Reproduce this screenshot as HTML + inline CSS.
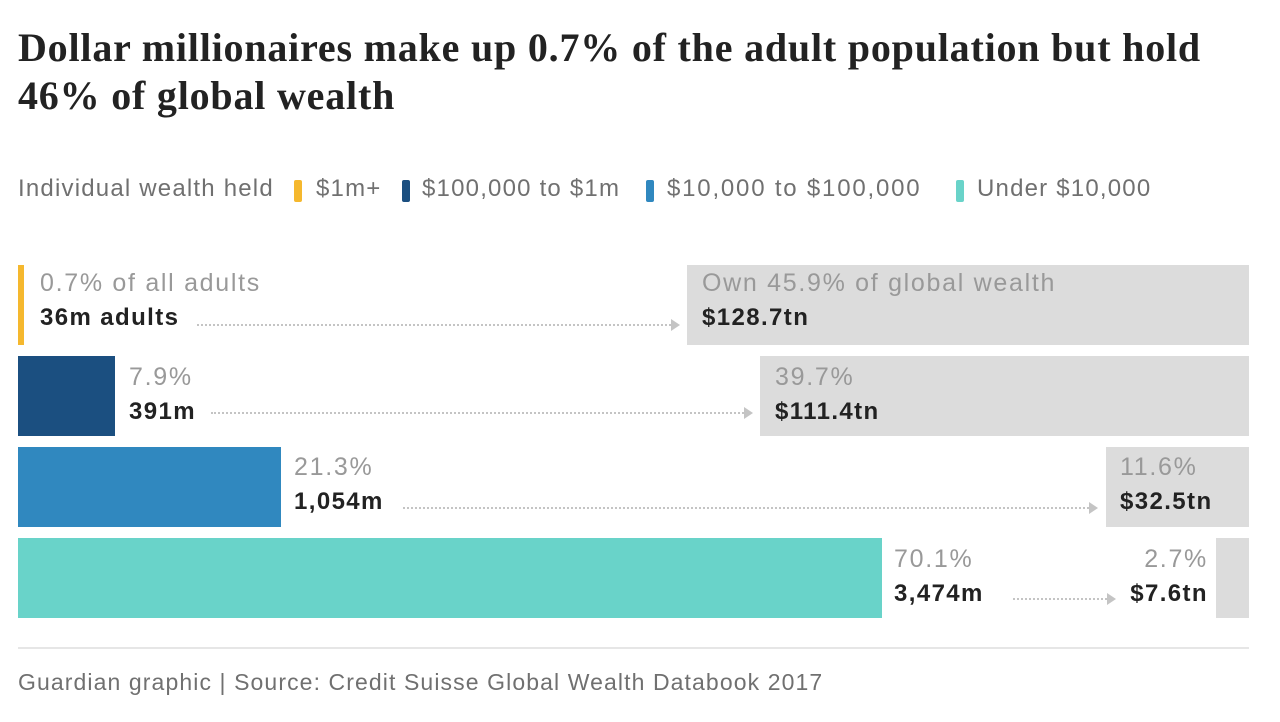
<!DOCTYPE html>
<html><head><meta charset="utf-8"><style>
body{margin:0;width:1280px;height:722px;background:#fff;font-family:"Liberation Sans",sans-serif;position:relative;overflow:hidden}
.a{position:absolute;white-space:nowrap}
.t{font-family:"Liberation Serif",serif;font-weight:bold;font-size:40px;color:#222;left:18px;line-height:48px;top:24px;letter-spacing:0.8px}
.lg{top:175px;font-size:24px;color:#707070;letter-spacing:1.2px}
.sw{position:absolute;width:8px;height:22px;top:180px;border-radius:2px}
.g{font-size:25px;color:#999;letter-spacing:1.7px}
.b{font-size:24px;color:#222;font-weight:bold;letter-spacing:1.4px}
.box{position:absolute;background:#dcdcdc}
.ar{position:absolute;border-top:2px dotted #c4c4c4;height:0}
.ar:after{content:"";position:absolute;right:-9px;top:-7px;border-left:9px solid #c4c4c4;border-top:6px solid transparent;border-bottom:6px solid transparent}
</style></head><body>
<div class="a t">Dollar millionaires make up 0.7% of the adult population but hold<br>46% of global wealth</div>
<div class="a lg" style="left:18px">Individual wealth held</div>
<div class="sw" style="left:294px;background:#f5b82e"></div><div class="a lg" style="left:316px">$1m+</div>
<div class="sw" style="left:402px;background:#1b4f80"></div><div class="a lg" style="left:422px">$100,000 to $1m</div>
<div class="sw" style="left:646px;background:#3088bf"></div><div class="a lg" style="left:667px;letter-spacing:1.8px">$10,000 to $100,000</div>
<div class="sw" style="left:956px;background:#69d3c9"></div><div class="a lg" style="left:977px">Under $10,000</div>

<div class="box" style="left:18px;top:265px;width:6px;height:80px;background:#f5b82e"></div>
<div class="box" style="left:687px;top:265px;width:562px;height:80px"></div>
<div class="a g" style="left:40px;top:269px">0.7% of all adults</div>
<div class="a b" style="left:40px;top:304px">36m adults</div>
<div class="ar" style="left:197px;top:324px;width:474px"></div>
<div class="a g" style="left:702px;top:269px">Own 45.9% of global wealth</div>
<div class="a b" style="left:702px;top:304px">$128.7tn</div>

<div class="box" style="left:18px;top:356px;width:97px;height:80px;background:#1b4f80"></div>
<div class="box" style="left:760px;top:356px;width:489px;height:80px"></div>
<div class="a g" style="left:129px;top:363px">7.9%</div>
<div class="a b" style="left:129px;top:398px">391m</div>
<div class="ar" style="left:211px;top:412px;width:533px"></div>
<div class="a g" style="left:775px;top:363px">39.7%</div>
<div class="a b" style="left:775px;top:398px">$111.4tn</div>

<div class="box" style="left:18px;top:447px;width:263px;height:80px;background:#3088bf"></div>
<div class="box" style="left:1106px;top:447px;width:143px;height:80px"></div>
<div class="a g" style="left:294px;top:453px">21.3%</div>
<div class="a b" style="left:294px;top:488px">1,054m</div>
<div class="ar" style="left:403px;top:507px;width:686px"></div>
<div class="a g" style="left:1120px;top:453px">11.6%</div>
<div class="a b" style="left:1120px;top:488px">$32.5tn</div>

<div class="box" style="left:18px;top:538px;width:864px;height:80px;background:#69d3c9"></div>
<div class="box" style="left:1216px;top:538px;width:33px;height:80px"></div>
<div class="a g" style="left:894px;top:545px">70.1%</div>
<div class="a b" style="left:894px;top:580px">3,474m</div>
<div class="ar" style="left:1013px;top:598px;width:94px"></div>
<div class="a g" style="right:72px;top:545px">2.7%</div>
<div class="a b" style="right:72px;top:580px">$7.6tn</div>

<div class="box" style="left:18px;top:647px;width:1231px;height:2px;background:#e6e6e6"></div>
<div class="a" style="left:18px;top:669px;font-size:23px;color:#707070;letter-spacing:1.1px">Guardian graphic | Source: Credit Suisse Global Wealth Databook 2017</div>
</body></html>
